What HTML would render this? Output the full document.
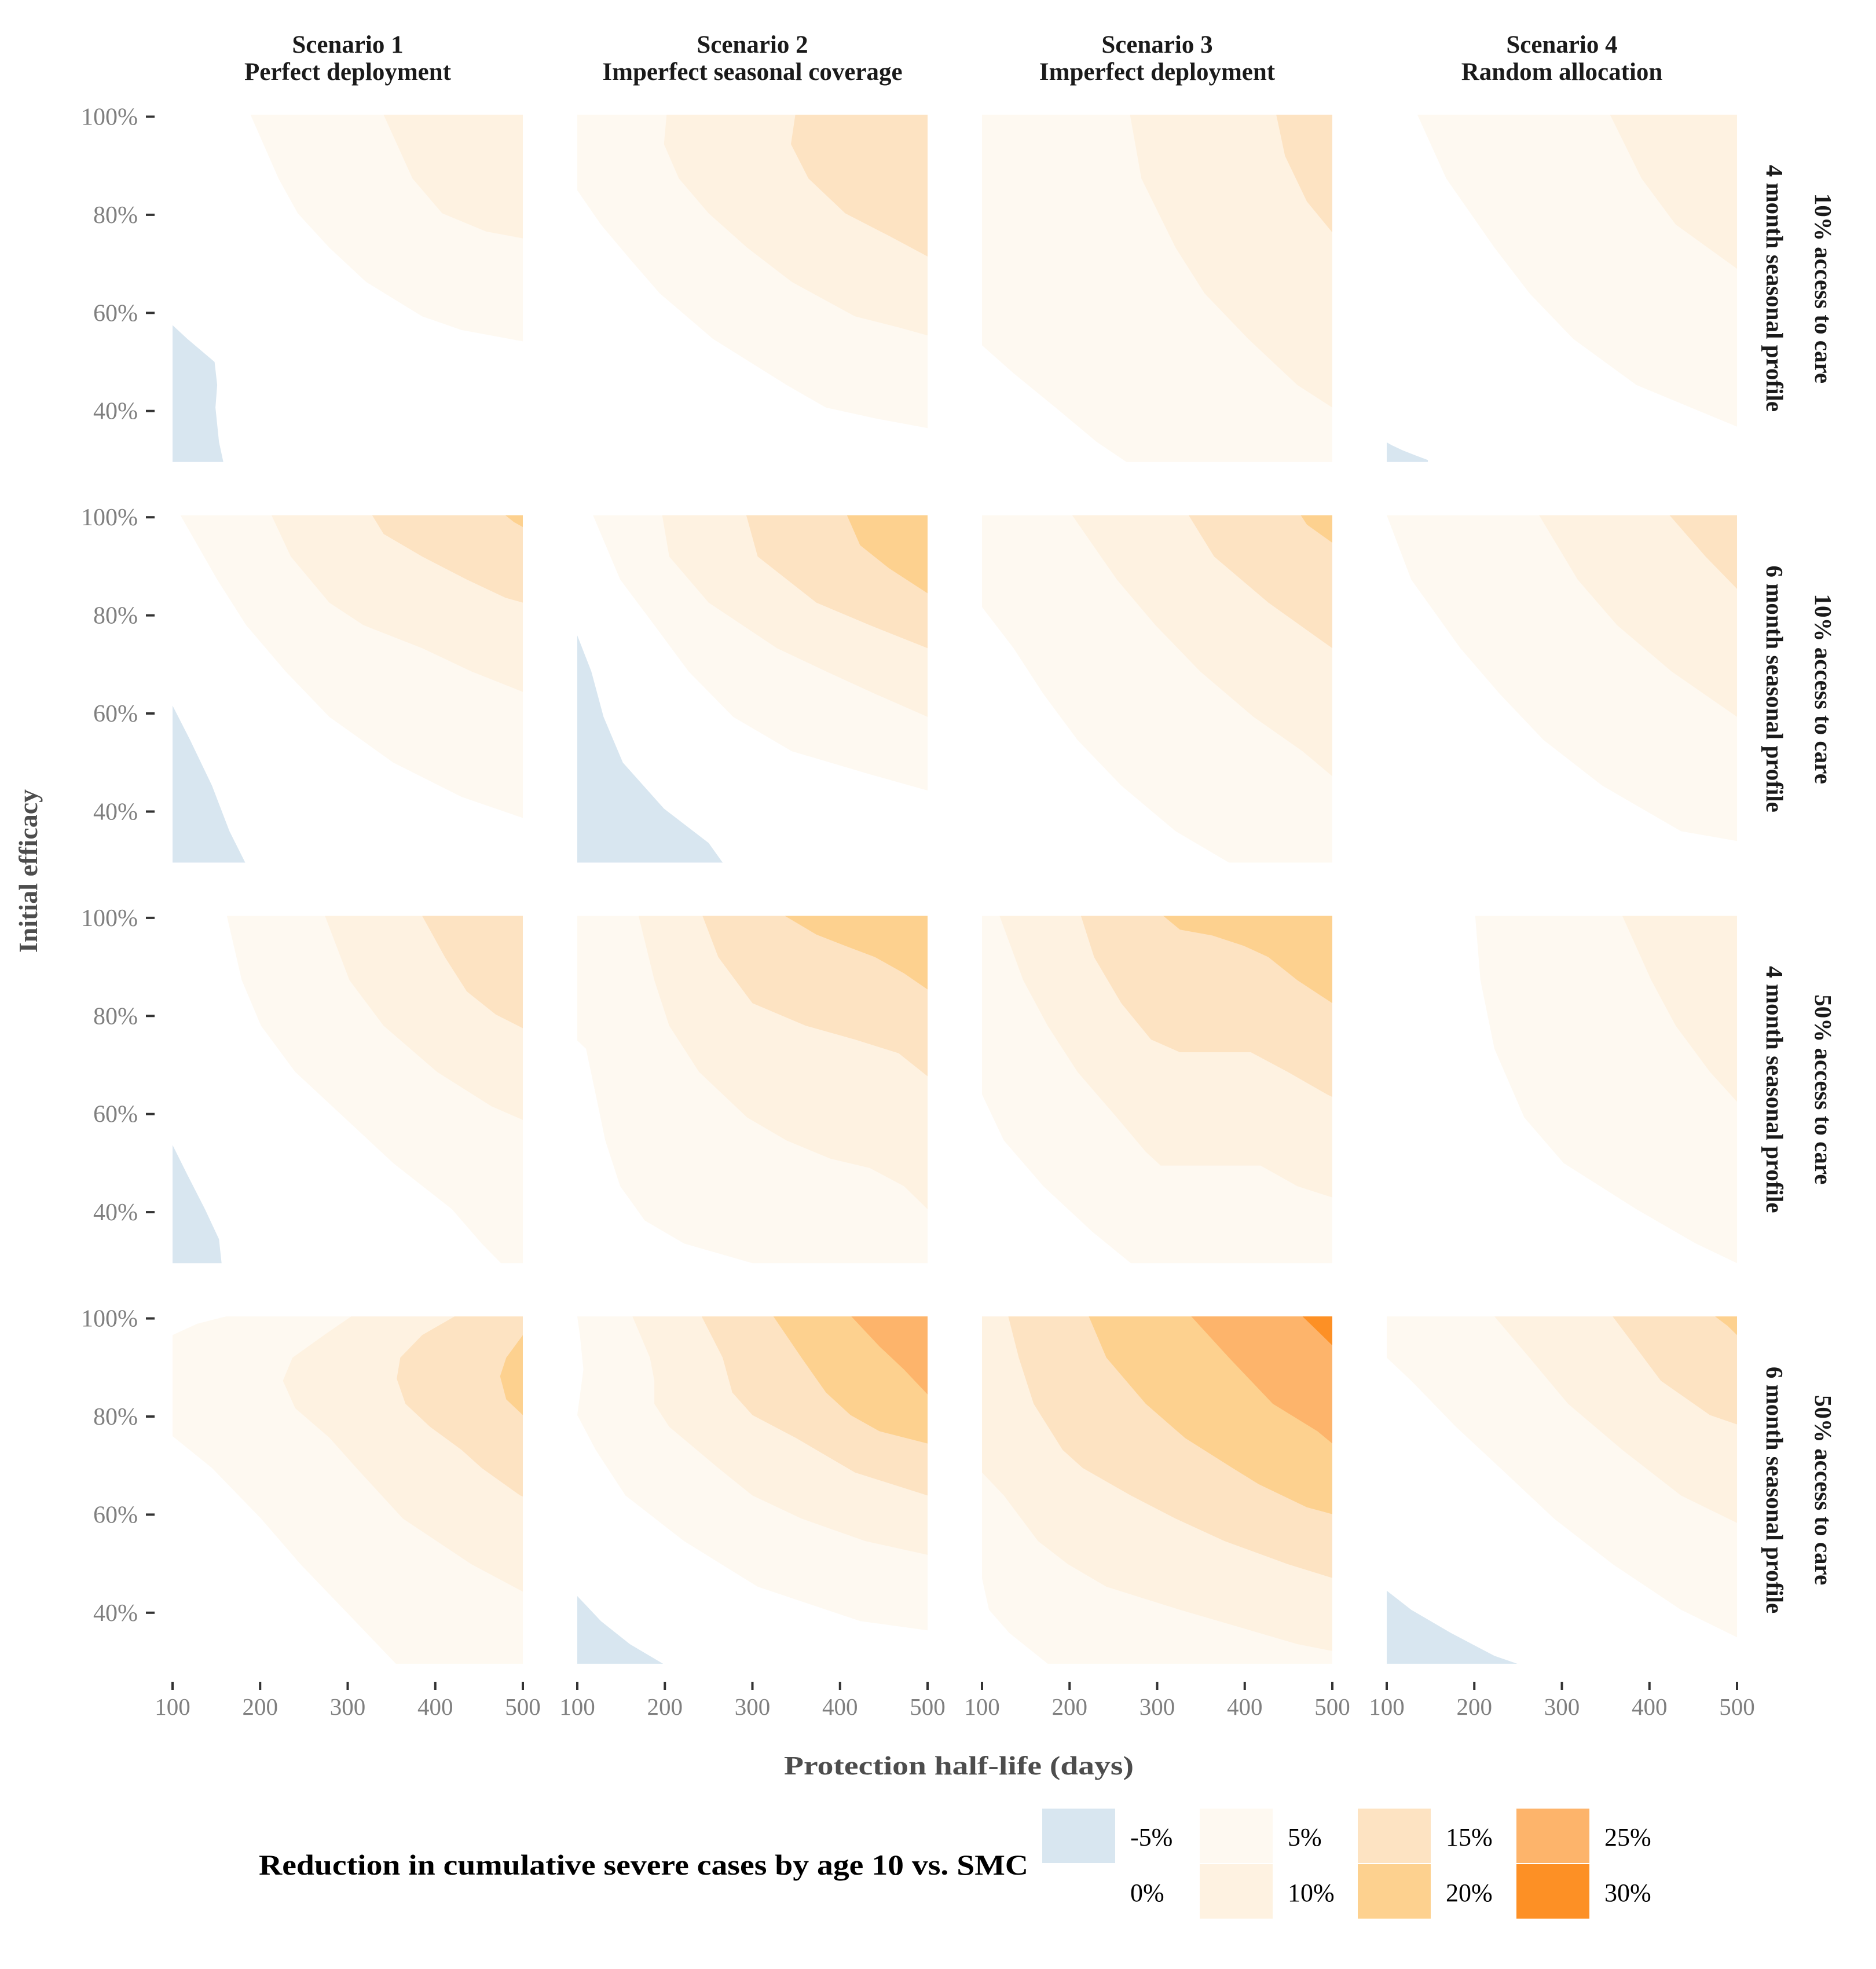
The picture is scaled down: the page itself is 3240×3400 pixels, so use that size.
<!DOCTYPE html>
<html><head><meta charset="utf-8">
<style>
html,body{margin:0;padding:0;background:#fff;}
svg{display:block;}
text{font-family:"Liberation Serif",serif;}
</style></head>
<body>
<svg id="chart" width="3240" height="3400" viewBox="0 0 3240 3400" xmlns="http://www.w3.org/2000/svg">
<rect x="0" y="0" width="3240" height="3400" fill="#ffffff"/>
<g id="panels"></g>
<g id="axes"></g>
<g id="labels">
  <text x="94" y="1534" transform="rotate(-90 64 1534)" text-anchor="middle" font-size="46" font-weight="bold" fill="#4d4d4d">Initial efficacy</text>
  <text x="1656" y="3064" text-anchor="middle" font-size="46" font-weight="bold" fill="#4d4d4d" textLength="604" lengthAdjust="spacingAndGlyphs">Protection half-life (days)</text>
</g>
<g id="legend">
  <text x="447" y="3237" font-size="50" font-weight="bold" fill="#000" textLength="1329" lengthAdjust="spacingAndGlyphs">Reduction in cumulative severe cases by age 10 vs. SMC</text>
</g>
</svg>
<script>
// ---- legend / colour levels ----
const levelLabels = ["-5%","0%","5%","10%","15%","20%","25%","30%"];
const levelColors = ["#d8e6f0","#ffffff","#fef9f1","#fef2e1","#fde3c2","#fdd18f","#fdb46b","#fd9025"];
const colTitles1 = ["Scenario 1","Scenario 2","Scenario 3","Scenario 4"];
const colTitles2 = ["Perfect deployment","Imperfect seasonal coverage","Imperfect deployment","Random allocation"];
const rowTitles1 = ["10% access to care","10% access to care","50% access to care","50% access to care"];
const rowTitles2 = ["4 month seasonal profile","6 month seasonal profile","4 month seasonal profile","6 month seasonal profile"];
const xTicks = [100,200,300,400,500];
const yTicks = [100,80,60,40];

// ---- contour boundaries: [half-life (days), initial efficacy (%)] ----
const r1s1_blue = [[100,57.5],[117,54.7],[148,50],[151,45.3],[149,40.7],[153,33.7],[158,29.5]];
const r1s1_c5 = [[189,100],[221,87.4],[243,80.3],[279,73.3],[321,66.3],[385,59.3],[430,56.5],[500,54.2]];
const r1s1_c10 = [[341,100],[374,87.4],[408,80.3],[458,76.6],[500,75.2]];
const r1s2_c5 = [[100,85],[127,78],[160,71],[194,64],[255,54.7],[339,45.3],[384,40.7],[440,38.5],[500,36.5]];
const r1s2_c10 = [[202,100],[199,94.4],[216,87.4],[250,80.3],[294,73.3],[345,66.3],[417,59.3],[468,57],[500,55.4]];
const r1s2_c15 = [[349,100],[344,94.4],[364,87.4],[406,80.3],[456,75.7],[500,71.5]];
const r1s3_c5 = [[100,53.4],[136,47.7],[184,40.7],[231,33.7],[265,29.5]];
const r1s3_c10 = [[269,100],[282,87.4],[321,73.3],[354,64],[404,54.7],[460,45.3],[500,40.7]];
const r1s3_c15 = [[436,100],[446,92],[471,82.7],[500,76.4]];
const r1s4_blue = [[100,33.6],[106,33],[118,32],[132,31],[147,30],[147,29.5]];
const r1s4_c5 = [[135,100],[168,87.4],[223,73.3],[263,64],[313,54.7],[385,45.3],[500,36.8]];
const r1s4_c10 = [[355,100],[391,87.4],[430,78],[500,69]];

const r2s1_blue = [[100,61.6],[120,54.6],[145,45.3],[165,36],[183,29.5]];
const r2s1_c5 = [[109,100],[151,87.3],[184,78],[229,68.6],[279,59.3],[352,50],[430,43],[500,38.7]];
const r2s1_c10 = [[213,100],[235,92],[279,82.6],[318,78],[385,73.3],[441,68.6],[500,64.4]];
const r2s1_c15 = [[328,100],[341,96.6],[385,92],[436,87.3],[480,83.6],[500,82.6]];
const r2s1_c20 = [[480,100],[490,99],[500,98]];
const r2s2_blue = [[100,75.9],[116,68.6],[130,59.3],[152,50],[199,40.6],[250,33.6],[266,29.5]];
const r2s2_c5 = [[118,100],[149,87.3],[188,78],[227,68.6],[278,59.3],[345,52.3],[434,47.6],[500,44.3]];
const r2s2_c10 = [[197,100],[205,92],[250,82.6],[328,73.3],[384,68.6],[440,64],[500,59.3]];
const r2s2_c15 = [[293,100],[306,92],[373,82.6],[434,78],[500,73.3]];
const r2s2_c20 = [[408,100],[423,94.3],[456,89.6],[500,84.5]];
const r2s3_c5 = [[100,81.7],[136,73.3],[170,64],[209,54.6],[259,45.3],[321,36],[382,29.5]];
const r2s3_c10 = [[203,100],[254,87.3],[298,78],[349,68.6],[410,59.3],[466,52.3],[500,47.2]];
const r2s3_c15 = [[336,100],[365,92],[427,82.6],[500,73.3]];
const r2s3_c20 = [[464,100],[471,98.5],[500,94.8]];
const r2s4_c5 = [[100,100],[128,87.3],[184,73.3],[229,64],[279,54.6],[346,45.3],[436,36],[500,34]];
const r2s4_c10 = [[274,100],[318,87.3],[363,78],[425,68.6],[500,59.3]];
const r2s4_c15 = [[423,100],[464,92],[500,85.4]];

const r3s1_blue = [[100,53.7],[117,47.6],[137,40.6],[153,34.5],[156,29.5]];
const r3s1_c5 = [[162,100],[179,87.3],[201,78],[240,68.6],[296,59.3],[352,50],[419,40.6],[453,33.6],[475,29.5]];
const r3s1_c10 = [[274,100],[302,87.3],[341,78],[402,68.6],[464,61.6],[500,58.8]];
const r3s1_c15 = [[385,100],[411,92],[436,85],[469,80.3],[500,77.5]];
const r3s2_c5 = [[100,75],[110,73.3],[121,64],[132,54.6],[149,45.3],[177,38.3],[222,33.6],[300,29.5]];
const r3s2_c10 = [[170,100],[188,87.3],[205,78],[239,68.6],[294,59.3],[339,54.6],[389,50.9],[434,49],[473,45.3],[500,40.6]];
const r3s2_c15 = [[243,100],[261,92],[300,82.6],[361,78],[417,75.2],[467,72.4],[500,67.7]];
const r3s2_c20 = [[337,100],[373,96.6],[406,94.3],[440,92],[473,88.7],[500,85.4]];
const r3s3_c5 = [[100,64],[125,54.6],[170,45.3],[226,36],[270,29.5]];
const r3s3_c10 = [[120,100],[147,87.3],[175,78],[209,68.6],[254,59.3],[287,52.3],[304,49.5],[418,49.5],[460,45.3],[500,43]];
const r3s3_c15 = [[213,100],[228,92],[259,82.6],[293,75.2],[326,72.6],[407,72.6],[449,68.6],[494,64],[500,63.5]];
const r3s3_c20 = [[307,100],[326,97.6],[363,96.4],[399,94.3],[427,92],[460,87.3],[500,82.6]];
const r3s4_c5 = [[201,100],[207,87.3],[223,73.3],[257,59.3],[302,50],[385,40.6],[453,33.6],[500,29.4]];
const r3s4_c10 = [[369,100],[402,87.3],[430,78],[469,68.6],[500,62.5]];

const r4s1_c5 = [[161,100],[128,98.9],[100,96.6],[100,76],[145,69.5],[201,59.2],[246,49.9],[296,40.6],[355,29.5]];
const r4s1_c10 = [[304,100],[273,96.6],[237,92],[226,87.3],[240,81.7],[279,75.7],[310,69.5],[363,59.2],[441,49.9],[500,44.3]];
const r4s1_c15 = [[422,100],[385,96.6],[360,92],[356,87.7],[366,82.6],[394,77.9],[430,73.2],[453,69.5],[497,63.9],[500,63.7]];
const r4s1_c20 = [[500,96.6],[481,92],[474,88.2],[481,83.5],[500,80.3]];
const r4s2_blue = [[100,43.4],[127,38.3],[160,33.6],[198,29.5]];
const r4s2_c5 = [[100,100],[103,96.6],[107,89.6],[100,80.3],[121,73.2],[155,63.9],[222,54.6],[306,45.3],[423,38.3],[500,36.4]];
const r4s2_c10 = [[163,100],[183,92],[188,87.3],[188,82.6],[205,77.9],[261,69.5],[300,63.9],[356,59.2],[429,54.6],[500,51.8]];
const r4s2_c15 = [[242,100],[266,92],[277,84.9],[300,80.3],[350,75.6],[395,70.9],[417,68.6],[500,63.9]];
const r4s2_c20 = [[324,100],[356,92],[384,84.9],[412,80.3],[445,77],[500,74.5]];
const r4s2_c25 = [[413,100],[445,94.3],[473,89.6],[500,84.5]];
const r4s3_c5 = [[100,47],[108,40.6],[131,35.9],[175,29.5]];
const r4s3_c10 = [[100,68.6],[125,63.9],[164,54.6],[198,49.9],[242,45.3],[326,40.6],[416,35.9],[460,33.6],[500,32.2]];
const r4s3_c15 = [[130,100],[142,92],[159,82.6],[192,73.2],[215,69.5],[270,63.9],[321,59.2],[377,54.6],[449,49.9],[500,47.1]];
const r4s3_c20 = [[222,100],[242,92],[287,82.6],[332,75.6],[386,69.5],[416,66.2],[471,61.5],[500,60.1]];
const r4s3_c25 = [[339,100],[382,92],[432,82.6],[483,77],[500,74.5]];
const r4s3_c30 = [[466,100],[477,98.5],[488,96.6],[500,94.5]];
const r4s4_blue = [[100,44.5],[128,40.6],[173,35.9],[223,31.2],[249,29.5]];
const r4s4_c5 = [[100,100],[100,92],[128,87.3],[179,77.9],[235,68.6],[291,59.2],[358,49.9],[436,40.6],[500,35]];
const r4s4_c10 = [[223,100],[263,92],[307,82.6],[369,73.2],[436,63.9],[500,58.3]];
const r4s4_c15 = [[358,100],[374,96.6],[413,87.3],[469,80.3],[500,78.4]];
const r4s4_c20 = [[475,100],[489,98.5],[500,96.6]];

const panelBlue = [
  [r1s1_blue,null,null,r1s4_blue],
  [r2s1_blue,r2s2_blue,null,null],
  [r3s1_blue,null,null,null],
  [null,r4s2_blue,null,r4s4_blue]
];
// contour lists per panel, index = colour level (2:5%,3:10%,...)
const panelContours = [
  [[r1s1_c5,r1s1_c10],[r1s2_c5,r1s2_c10,r1s2_c15],[r1s3_c5,r1s3_c10,r1s3_c15],[r1s4_c5,r1s4_c10]],
  [[r2s1_c5,r2s1_c10,r2s1_c15,r2s1_c20],[r2s2_c5,r2s2_c10,r2s2_c15,r2s2_c20],[r2s3_c5,r2s3_c10,r2s3_c15,r2s3_c20],[r2s4_c5,r2s4_c10,r2s4_c15]],
  [[r3s1_c5,r3s1_c10,r3s1_c15],[r3s2_c5,r3s2_c10,r3s2_c15,r3s2_c20],[r3s3_c5,r3s3_c10,r3s3_c15,r3s3_c20],[r3s4_c5,r3s4_c10]],
  [[r4s1_c5,r4s1_c10,r4s1_c15,r4s1_c20],[r4s2_c5,r4s2_c10,r4s2_c15,r4s2_c20,r4s2_c25],[r4s3_c5,r4s3_c10,r4s3_c15,r4s3_c20,r4s3_c25,r4s3_c30],[r4s4_c5,r4s4_c10,r4s4_c15,r4s4_c20]]
];

// ---- layout / scales ----
const NS = "http://www.w3.org/2000/svg";
const PX0 = 298, PPITCH = 699, PW = 605;
const Y100 = 201.5, RPITCH = 691.7, PXPERPCT = 8.47;
function xScale(col, hl){ return PX0 + PPITCH*col + (hl-100)*(PW/400); }
function yScale(row, e){ const c = Math.max(29.6, Math.min(100.4, e>=100?100.4:e)); return Y100 + RPITCH*row + (100-c)*PXPERPCT; }
function mk(tag, attrs){ const el=document.createElementNS(NS,tag); for(const k in attrs) el.setAttribute(k,attrs[k]); return el; }

const gP = document.getElementById("panels");
const gA = document.getElementById("axes");
const gL = document.getElementById("labels");
const gLeg = document.getElementById("legend");

for(let r=0;r<4;r++){
  for(let c=0;c<4;c++){
    const g = mk("g",{});
    
    
    gP.appendChild(g);
    const list = panelContours[r][c];
    list.forEach((pts, i)=>{
      const poly = pts.map(p=>[xScale(c,p[0]), yScale(r,p[1])]);
      const last = pts[pts.length-1], first = pts[0];
      poly.push([xScale(c,500), yScale(r,last[1])]);
      if(first[0] < 500){
        poly.push([xScale(c,500), yScale(r,100)]);
        poly.push([xScale(c,first[0]), yScale(r,100)]);
      }
      const el = mk("polygon",{points:poly.map(p=>p[0].toFixed(1)+","+p[1].toFixed(1)).join(" "), fill:levelColors[i+2]});
      
      
      g.appendChild(el);
    });
    const blue = panelBlue[r][c];
    if(blue){
      const poly = blue.map(p=>[xScale(c,p[0]), yScale(r,p[1])]);
      poly.push([xScale(c,100), yScale(r,29)]);
      const el = mk("polygon",{points:poly.map(p=>p[0].toFixed(1)+","+p[1].toFixed(1)).join(" "), fill:levelColors[0]});
      
      
      g.appendChild(el);
    }
  }
}

// y ticks (left column)
for(let r=0;r<4;r++){
  yTicks.forEach(v=>{
    const yy = Y100 + RPITCH*r + (100-v)*PXPERPCT;
    const t = mk("line",{x1:252,x2:267,y1:yy,y2:yy,stroke:"#333333","stroke-width":4});
    
    
    gA.appendChild(t);
    const lb = mk("text",{x:238,y:yy+14,"text-anchor":"end","font-size":42,fill:"#7f7f7f"});
    
    
    lb.textContent = v+"%";
    gA.appendChild(lb);
  });
}
// x ticks (bottom row)
for(let c=0;c<4;c++){
  xTicks.forEach(v=>{
    const x = xScale(c,v);
    const t = mk("line",{x1:x,x2:x,y1:2904,y2:2918,stroke:"#333333","stroke-width":4});
    
    
    gA.appendChild(t);
    const lb = mk("text",{x:x,y:2961,"text-anchor":"middle","font-size":41,fill:"#7f7f7f"});
    
    
    lb.textContent = v;
    gA.appendChild(lb);
  });
}
// column headers
for(let c=0;c<4;c++){
  const cx = PX0 + PPITCH*c + PW/2;
  const t1 = mk("text",{x:cx,y:91,"text-anchor":"middle","font-size":43,"font-weight":"bold",fill:"#1a1a1a"});
  
  
  t1.textContent = colTitles1[c];
  gL.appendChild(t1);
  const t2 = mk("text",{x:cx,y:138,"text-anchor":"middle","font-size":43,"font-weight":"bold",fill:"#1a1a1a"});
  
  
  t2.textContent = colTitles2[c];
  gL.appendChild(t2);
}
// row strip labels
for(let r=0;r<4;r++){
  const cy = Y100 + RPITCH*r + 35*PXPERPCT;
  const t1 = mk("text",{x:0,y:0,"text-anchor":"middle","font-size":41,"font-weight":"bold",fill:"#1a1a1a",transform:"translate(3135,"+cy+") rotate(90)"});
  
  
  t1.textContent = rowTitles1[r];
  gL.appendChild(t1);
  const t2 = mk("text",{x:0,y:0,"text-anchor":"middle","font-size":41,"font-weight":"bold",fill:"#1a1a1a",transform:"translate(3051,"+cy+") rotate(90)"});
  
  
  t2.textContent = rowTitles2[r];
  gL.appendChild(t2);
}
// legend keys
const legX = [1800,2072,2345,2619];
const legY = [3123,3219];
levelLabels.forEach((lab,i)=>{
  const col = Math.floor(i/2), row = i%2;
  const k = mk("rect",{x:legX[col],y:legY[row],width:126,height:94,fill:levelColors[i]});
  
  
  gLeg.appendChild(k);
  const t = mk("text",{x:legX[col]+152,y:legY[row]+64,"font-size":44,fill:"#000"});
  
  
  t.textContent = lab;
  gLeg.appendChild(t);
});
</script>
</body></html>
